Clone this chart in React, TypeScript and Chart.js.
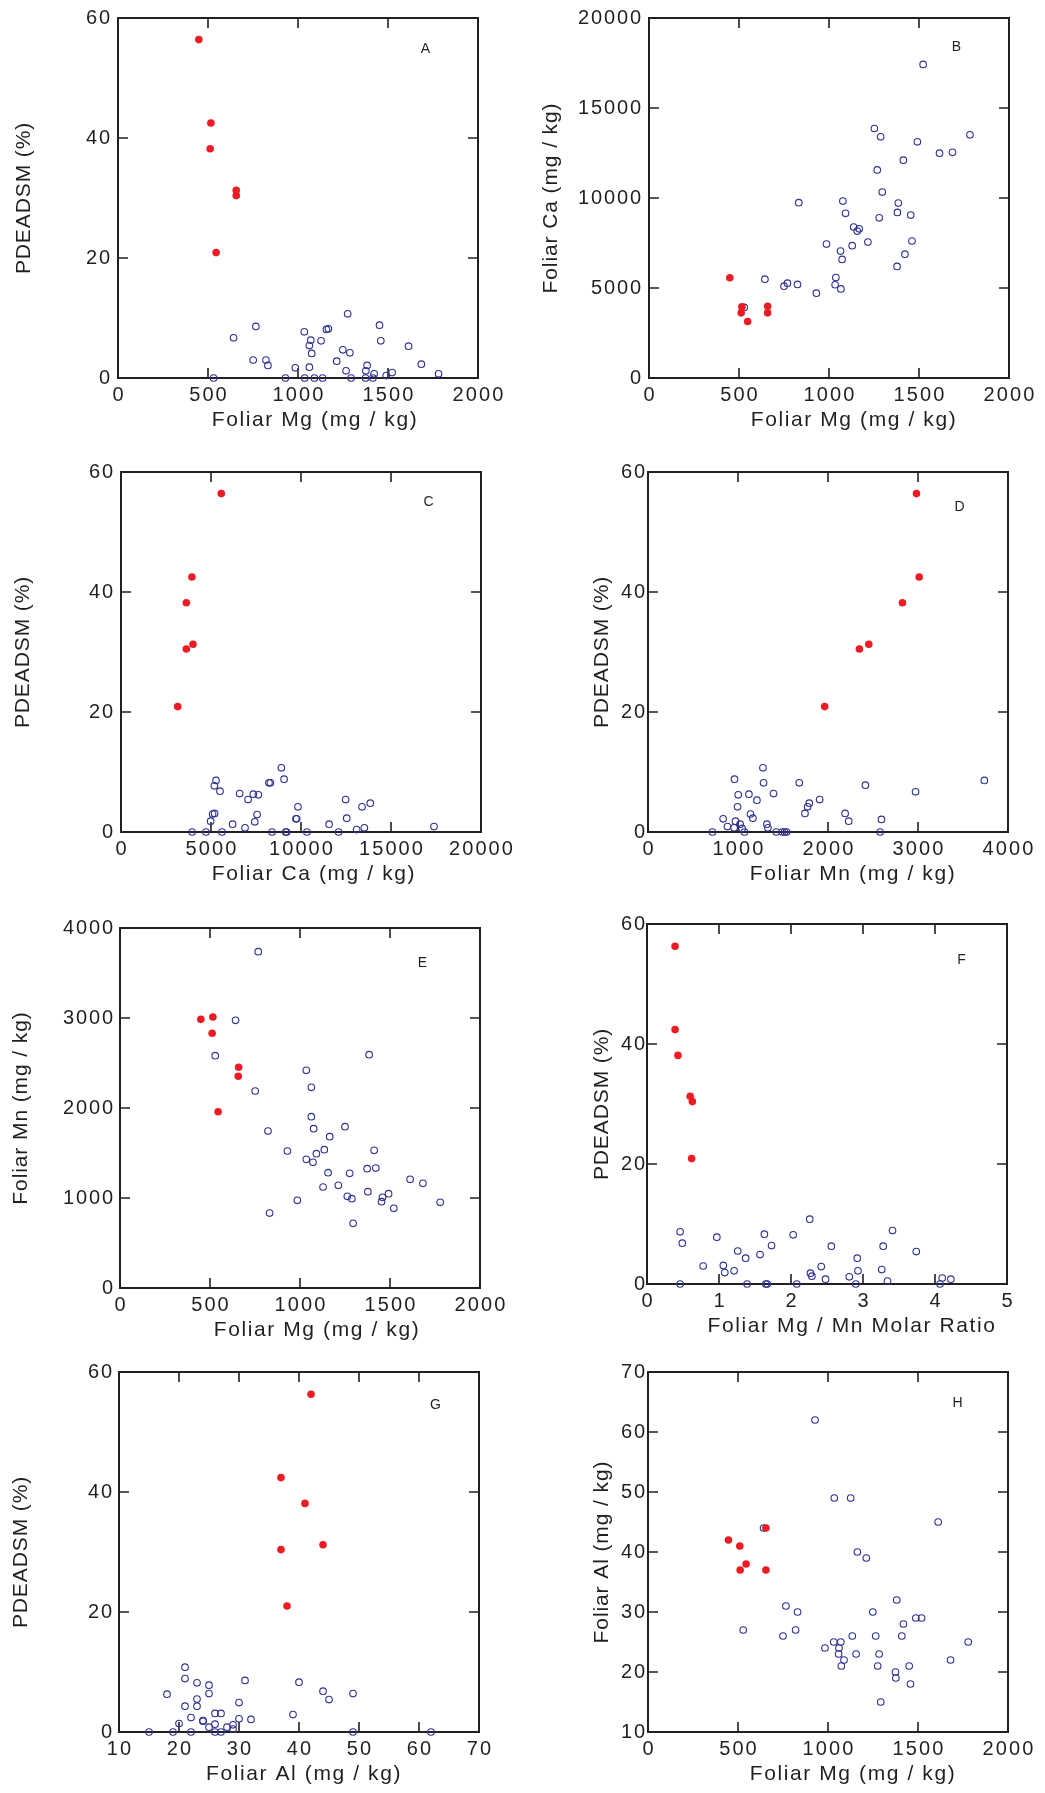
import React, { useEffect, useRef } from "react";
import Chart from "chart.js/auto";

// ---------- Panel A: Foliar Mg vs PDEADSM ----------
const aBlueX = [531, 642, 766, 751, 822, 833, 930, 985, 1035, 1037, 1071, 1063, 1076, 1063, 1091, 1128, 1137, 1158, 1169, 1215, 1249, 1276, 1267, 1288, 1295, 1375, 1384, 1377, 1416, 1423, 1453, 1460, 1490, 1523, 1614, 1685, 1781];
const aBlueY = [0, 6.7, 8.6, 3.0, 3.0, 2.1, 0, 1.7, 7.7, 0, 6.3, 5.4, 4.1, 1.8, 0, 6.2, 0, 8.1, 8.2, 2.8, 4.7, 10.7, 1.2, 4.2, 0, 0, 2.1, 1.2, 0, 0.7, 8.8, 6.2, 0.4, 0.9, 5.3, 2.3, 0.7];
const aRedX = [449, 516, 512, 657, 657, 545];
const aRedY = [56.4, 42.5, 38.2, 31.3, 30.4, 20.9];

// ---------- Panel B: Foliar Mg vs Foliar Ca ----------
const bBlueX = [1523, 1252, 1287, 1783, 1491, 1614, 1686, 1413, 1268, 1296, 832, 1077, 1385, 1092, 1380, 1454, 1279, 1137, 1168, 1157, 986, 1129, 1216, 1461, 1064, 1073, 1422, 1378, 644, 750, 769, 825, 930, 1038, 1034, 1066, 529];
const bBlueY = [17420, 13860, 13400, 13510, 13120, 12490, 12540, 12100, 11560, 10330, 9740, 9830, 9720, 9150, 9200, 9050, 8900, 8390, 8290, 8160, 7440, 7350, 7550, 7610, 7050, 6590, 6880, 6200, 5490, 5100, 5270, 5200, 4710, 5580, 5180, 4950, 3920];
const bRedX = [449, 516, 512, 548, 659, 659];
const bRedY = [5570, 3950, 3620, 3140, 3990, 3620];

// ---------- Panel C: Foliar Ca vs PDEADSM ----------
const cBlueX = [8910, 5280, 5190, 5500, 8220, 8300, 9060, 6590, 7060, 7350, 7630, 5090, 5200, 4980, 3950, 4720, 5610, 6200, 6890, 7430, 7560, 8390, 9150, 9200, 9720, 9760, 9830, 10330, 11560, 12090, 12480, 12540, 13090, 13390, 13520, 13850, 17390];
const cBlueY = [10.7, 8.6, 7.7, 6.8, 8.2, 8.2, 8.8, 6.4, 5.4, 6.3, 6.2, 3.0, 3.1, 1.8, 0, 0, 0, 1.3, 0.7, 1.7, 2.9, 0, 0, 0, 2.2, 2.2, 4.2, 0, 1.3, 0, 5.4, 2.3, 0.4, 4.2, 0.7, 4.8, 0.9];
const cRedX = [5570, 3940, 3630, 4000, 3630, 3150];
const cRedY = [56.4, 42.5, 38.2, 31.3, 30.5, 20.9];

// ---------- Panel D: Foliar Mn vs PDEADSM ----------
const dBlueX = [1277, 961, 1284, 1681, 3737, 2416, 2973, 1002, 1121, 1395, 1210, 1907, 995, 1792, 1774, 1744, 1139, 1165, 2190, 2230, 2594, 835, 972, 883, 957, 1024, 1046, 1072, 716, 1321, 1332, 1425, 1492, 1518, 1540, 2579];
const dBlueY = [10.7, 8.8, 8.2, 8.2, 8.6, 7.8, 6.7, 6.2, 6.3, 6.4, 5.3, 5.4, 4.2, 4.8, 4.2, 3.1, 3.0, 2.3, 3.1, 1.8, 2.1, 2.2, 1.8, 0.9, 0.7, 1.3, 0.6, 0, 0, 1.3, 0.7, 0, 0, 0, 0, 0];
const dRedX = [2983, 3013, 2827, 2453, 2349, 1963];
const dRedY = [56.4, 42.5, 38.2, 31.3, 30.5, 20.9];

// ---------- Panel E: Foliar Mg vs Foliar Mn ----------
const eBlueX = [768, 642, 529, 1384, 1035, 1063, 751, 1063, 1076, 1250, 822, 1165, 930, 1135, 1412, 1091, 1035, 1072, 1373, 1421, 1156, 1276, 1612, 1683, 1128, 1213, 1377, 1492, 1263, 1288, 1458, 1453, 985, 1779, 1521, 831, 1295];
const eBlueY = [3737, 2974, 2581, 2593, 2419, 2230, 2189, 1904, 1770, 1793, 1744, 1681, 1522, 1537, 1530, 1493, 1430, 1396, 1326, 1333, 1281, 1274, 1207, 1163, 1122, 1141, 1070, 1048, 1019, 993, 1007, 959, 974, 952, 885, 833, 719];
const eRedX = [449, 516, 512, 659, 657, 545];
const eRedY = [2985, 3011, 2830, 2452, 2352, 1959];

// ---------- Panel F: Foliar Mg/Mn molar ratio vs PDEADSM ----------
const fBlueX = [2.26, 0.46, 0.49, 0.97, 1.63, 2.03, 3.41, 1.73, 2.56, 3.28, 3.74, 1.26, 1.37, 1.57, 2.92, 0.78, 1.06, 1.08, 1.21, 2.42, 2.27, 2.29, 2.93, 3.26, 2.81, 2.48, 3.34, 4.10, 4.22, 0.46, 1.39, 1.65, 1.67, 2.08, 2.90, 4.07];
const fBlueY = [10.8, 8.7, 6.8, 7.8, 8.3, 8.2, 8.9, 6.4, 6.3, 6.3, 5.4, 5.5, 4.3, 4.9, 4.3, 3.0, 3.1, 1.9, 2.2, 2.9, 1.8, 1.3, 2.2, 2.4, 1.2, 0.8, 0.5, 1.0, 0.8, 0, 0, 0, 0, 0, 0, 0];
const fRedX = [0.39, 0.39, 0.43, 0.6, 0.63, 0.62];
const fRedY = [56.3, 42.4, 38.1, 31.3, 30.4, 20.9];

// ---------- Panel G: Foliar Al vs PDEADSM ----------
const gBlueX = [21, 21, 23, 25, 31, 40, 18, 25, 23, 44, 45, 49, 21, 23, 30, 22, 24, 26, 27, 39, 30, 32, 20, 25, 26, 28, 29, 29, 15, 19, 22, 26, 27, 49, 62, 24];
const gBlueY = [10.8, 8.9, 8.2, 7.8, 8.6, 8.3, 6.3, 6.4, 5.5, 6.8, 5.4, 6.4, 4.3, 4.3, 4.9, 2.4, 1.9, 3.1, 3.1, 2.9, 2.2, 2.1, 1.4, 0.8, 1.3, 0.8, 1.2, 0.5, 0, 0, 0, 0, 0, 0, 0, 1.8];
const gRedX = [42, 37, 41, 44, 37, 38];
const gRedY = [56.3, 42.4, 38.1, 31.2, 30.4, 21.0];

// ---------- Panel H: Foliar Mg vs Foliar Al ----------
const hBlueX = [928, 1035, 1126, 1612, 642, 1163, 1213, 1382, 766, 831, 1249, 1488, 1520, 1419, 529, 820, 750, 1135, 1265, 1410, 1032, 1071, 1779, 983, 1061, 1059, 1156, 1284, 1089, 1681, 1074, 1276, 1451, 1375, 1377, 1458, 1293];
const hBlueY = [62, 49, 49, 45, 44, 40, 39, 32, 31, 30, 30, 29, 29, 28, 27, 27, 26, 26, 26, 26, 25, 25, 25, 24, 24, 23, 23, 23, 22, 22, 21, 21, 21, 20, 19, 18, 15];
const hRedX = [447, 510, 545, 655, 512, 655];
const hRedY = [42, 41, 38, 44, 37, 37];

const FONT = '"Liberation Sans", Arial, sans-serif';
const INK = "#231f20";
const BLUE = "#2e3192";
const RED = "#ed1c24";
const PLOT = 360;
const XH = 62;

type PanelCfg = {
  letter: string;
  cl: number; plotLeft: number; plotTop: number;
  xMin: number; xMax: number; xStep: number;
  yMin: number; yMax: number; yStep: number;
  xTitle: string; yTitle: string;
  yTitleX: number; yTickPad: number; xTitleDx: number;
  letterDx: number; letterDy: number;
  bx: number[]; by: number[]; rx: number[]; ry: number[];
};

const panels: PanelCfg[] = [
  { letter: "A", cl: 0, plotLeft: 118, plotTop: 18, xMin: 0, xMax: 2000, xStep: 500, yMin: 0, yMax: 60, yStep: 20,
    xTitle: "Foliar Mg (mg / kg)", yTitle: "PDEADSM (%)", yTitleX: 24, yTickPad: 6, xTitleDx: 17, letterDx: 308, letterDy: 31,
    bx: aBlueX, by: aBlueY, rx: aRedX, ry: aRedY },
  { letter: "B", cl: 520, plotLeft: 649, plotTop: 18, xMin: 0, xMax: 2000, xStep: 500, yMin: 0, yMax: 20000, yStep: 5000,
    xTitle: "Foliar Mg (mg / kg)", yTitle: "Foliar Ca (mg / kg)", yTitleX: 551, yTickPad: 6, xTitleDx: 25, letterDx: 308, letterDy: 29,
    bx: bBlueX, by: bBlueY, rx: bRedX, ry: bRedY },
  { letter: "C", cl: 0, plotLeft: 121, plotTop: 472, xMin: 0, xMax: 20000, xStep: 5000, yMin: 0, yMax: 60, yStep: 20,
    xTitle: "Foliar Ca (mg / kg)", yTitle: "PDEADSM (%)", yTitleX: 23, yTickPad: 6, xTitleDx: 13, letterDx: 308, letterDy: 30,
    bx: cBlueX, by: cBlueY, rx: cRedX, ry: cRedY },
  { letter: "D", cl: 520, plotLeft: 648, plotTop: 472, xMin: 0, xMax: 4000, xStep: 1000, yMin: 0, yMax: 60, yStep: 20,
    xTitle: "Foliar Mn (mg / kg)", yTitle: "PDEADSM (%)", yTitleX: 602, yTickPad: 1, xTitleDx: 25, letterDx: 312, letterDy: 35,
    bx: dBlueX, by: dBlueY, rx: dRedX, ry: dRedY },
  { letter: "E", cl: 0, plotLeft: 120, plotTop: 928, xMin: 0, xMax: 2000, xStep: 500, yMin: 0, yMax: 4000, yStep: 1000,
    xTitle: "Foliar Mg (mg / kg)", yTitle: "Foliar Mn (mg / kg)", yTitleX: 21, yTickPad: 5, xTitleDx: 17, letterDx: 303, letterDy: 35,
    bx: eBlueX, by: eBlueY, rx: eRedX, ry: eRedY },
  { letter: "F", cl: 520, plotLeft: 647, plotTop: 924, xMin: 0, xMax: 5, xStep: 1, yMin: 0, yMax: 60, yStep: 20,
    xTitle: "Foliar Mg / Mn Molar Ratio", yTitle: "PDEADSM (%)", yTitleX: 602, yTickPad: 0, xTitleDx: 25, letterDx: 315, letterDy: 36,
    bx: fBlueX, by: fBlueY, rx: fRedX, ry: fRedY },
  { letter: "G", cl: 0, plotLeft: 119, plotTop: 1372, xMin: 10, xMax: 70, xStep: 10, yMin: 0, yMax: 60, yStep: 20,
    xTitle: "Foliar Al (mg / kg)", yTitle: "PDEADSM (%)", yTitleX: 21, yTickPad: 5, xTitleDx: 5, letterDx: 317, letterDy: 33,
    bx: gBlueX, by: gBlueY, rx: gRedX, ry: gRedY },
  { letter: "H", cl: 520, plotLeft: 648, plotTop: 1372, xMin: 0, xMax: 2000, xStep: 500, yMin: 10, yMax: 70, yStep: 10,
    xTitle: "Foliar Mg (mg / kg)", yTitle: "Foliar Al (mg / kg)", yTitleX: 602, yTickPad: 1, xTitleDx: 25, letterDx: 310, letterDy: 31,
    bx: hBlueX, by: hBlueY, rx: hRedX, ry: hRedY },
];

// wrap a scale drawing method so that its text gets a letter spacing / shift
function wrapScale(scale: any, name: string, ls: number, dx: number) {
  const orig = scale[name].bind(scale);
  scale[name] = function (...args: any[]) {
    const c = this.ctx;
    c.save();
    if ("letterSpacing" in c) (c as any).letterSpacing = ls + "px";
    if (dx) c.translate(dx, 0);
    orig(...args);
    c.restore();
  };
}

const frameTicks = {
  id: "frameTicks",
  beforeDraw(chart: any, _args: any, opts: any) {
    const xs = chart.scales.x;
    const ys = chart.scales.y;
    if (xs && !xs.__wrapped) {
      wrapScale(xs, "drawTitle", 1.6, opts.xTitleDx || 0);
      wrapScale(xs, "drawLabels", 2.1, 1);
      xs.__wrapped = true;
    }
    if (ys && !ys.__wrapped) {
      wrapScale(ys, "drawTitle", 0.9, 0);
      wrapScale(ys, "drawLabels", 1.9, 0);
      ys.__wrapped = true;
    }
  },
  beforeDatasetsDraw(chart: any, _args: any, opts: any) {
    const { ctx, chartArea } = chart;
    const { left, right, top, bottom } = chartArea;
    const xs = chart.scales.x;
    const ys = chart.scales.y;
    const TL = 10;
    ctx.save();
    ctx.strokeStyle = INK;
    ctx.lineWidth = 1.6;
    ctx.beginPath();
    xs.ticks.forEach((t: any) => {
      const px = xs.getPixelForValue(t.value);
      ctx.moveTo(px, bottom);
      ctx.lineTo(px, bottom - TL);
      ctx.moveTo(px, top);
      ctx.lineTo(px, top + TL);
    });
    ys.ticks.forEach((t: any) => {
      const py = ys.getPixelForValue(t.value);
      ctx.moveTo(left, py);
      ctx.lineTo(left + TL, py);
      ctx.moveTo(right, py);
      ctx.lineTo(right - TL, py);
    });
    ctx.stroke();
    ctx.lineWidth = 2;
    ctx.strokeRect(left, top, right - left, bottom - top);
    ctx.fillStyle = INK;
    ctx.font = `14px ${FONT}`;
    if ("letterSpacing" in ctx) ctx.letterSpacing = "1px";
    ctx.textAlign = "center";
    ctx.textBaseline = "middle";
    ctx.fillText(opts.letter, left + opts.letterDx, top + opts.letterDy);
    ctx.restore();
  },
};

function Panel({ cfg }: { cfg: PanelCfg }) {
  const ref = useRef<HTMLCanvasElement | null>(null);
  const yw = cfg.plotLeft - cfg.cl;
  const cw = cfg.cl === 0 ? 518 : 1045 - cfg.cl;
  const ptop = Math.min(20, cfg.plotTop);
  const ct = cfg.plotTop - ptop;
  const ch = ptop + PLOT + XH;
  const padRight = cw - yw - PLOT;

  useEffect(() => {
    const canvas = ref.current;
    if (!canvas) return;
    const tickFont = { family: FONT, size: 20 };
    const titleFont = { family: FONT, size: 21 };
    const chart = new Chart(canvas, {
      type: "scatter",
      data: {
        datasets: [
          {
            label: "affected",
            data: cfg.rx.map((x, i) => ({ x, y: cfg.ry[i] })),
            pointRadius: 3.8,
            pointBackgroundColor: RED,
            pointBorderWidth: 0,
            pointBorderColor: RED,
            clip: false,
          } as any,
          {
            label: "other",
            data: cfg.bx.map((x, i) => ({ x, y: cfg.by[i] })),
            pointRadius: 3.3,
            pointBackgroundColor: "rgba(0,0,0,0)",
            pointBorderColor: BLUE,
            pointBorderWidth: 1.1,
            clip: false,
          } as any,
        ],
      },
      options: {
        animation: false,
        responsive: false,
        devicePixelRatio: 1,
        events: [],
        layout: { padding: { left: 0, top: ptop, right: padRight, bottom: 0 }, autoPadding: false },
        plugins: {
          legend: { display: false },
          tooltip: { enabled: false },
          frameTicks: { letter: cfg.letter, letterDx: cfg.letterDx, letterDy: cfg.letterDy, xTitleDx: cfg.xTitleDx },
        } as any,
        scales: {
          x: {
            type: "linear",
            position: "bottom",
            min: cfg.xMin,
            max: cfg.xMax,
            grid: { display: false, drawTicks: false },
            border: { display: false },
            ticks: {
              stepSize: cfg.xStep,
              autoSkip: false,
              maxRotation: 0,
              padding: 5,
              color: INK,
              font: tickFont,
              callback: (v: any) => String(v),
            },
            title: { display: true, text: cfg.xTitle, color: INK, font: titleFont, padding: { top: 0, bottom: 7.4 } },
            afterFit: (s: any) => { s.height = XH; },
          },
          y: {
            type: "linear",
            position: "left",
            min: cfg.yMin,
            max: cfg.yMax,
            grid: { display: false, drawTicks: false },
            border: { display: false },
            ticks: {
              stepSize: cfg.yStep,
              autoSkip: false,
              padding: cfg.yTickPad,
              color: INK,
              font: tickFont,
              callback: (v: any) => String(v),
            },
            title: {
              display: true, text: cfg.yTitle, color: INK, font: titleFont,
              padding: { top: cfg.yTitleX - cfg.cl - 12.6, bottom: 0 },
            },
            afterFit: (s: any) => { s.width = yw; },
          },
        },
      } as any,
      plugins: [frameTicks as any],
    });
    return () => chart.destroy();
  }, []);

  return (
    <canvas
      ref={ref}
      width={cw}
      height={ch}
      style={{ position: "absolute", left: cfg.cl, top: ct, width: cw, height: ch }}
    />
  );
}

export default function App() {
  return (
    <div style={{ position: "absolute", left: 0, top: 0, width: 1045, height: 1793, background: "#fff" }}>
      {panels.map((p) => (
        <Panel key={p.letter} cfg={p} />
      ))}
    </div>
  );
}
